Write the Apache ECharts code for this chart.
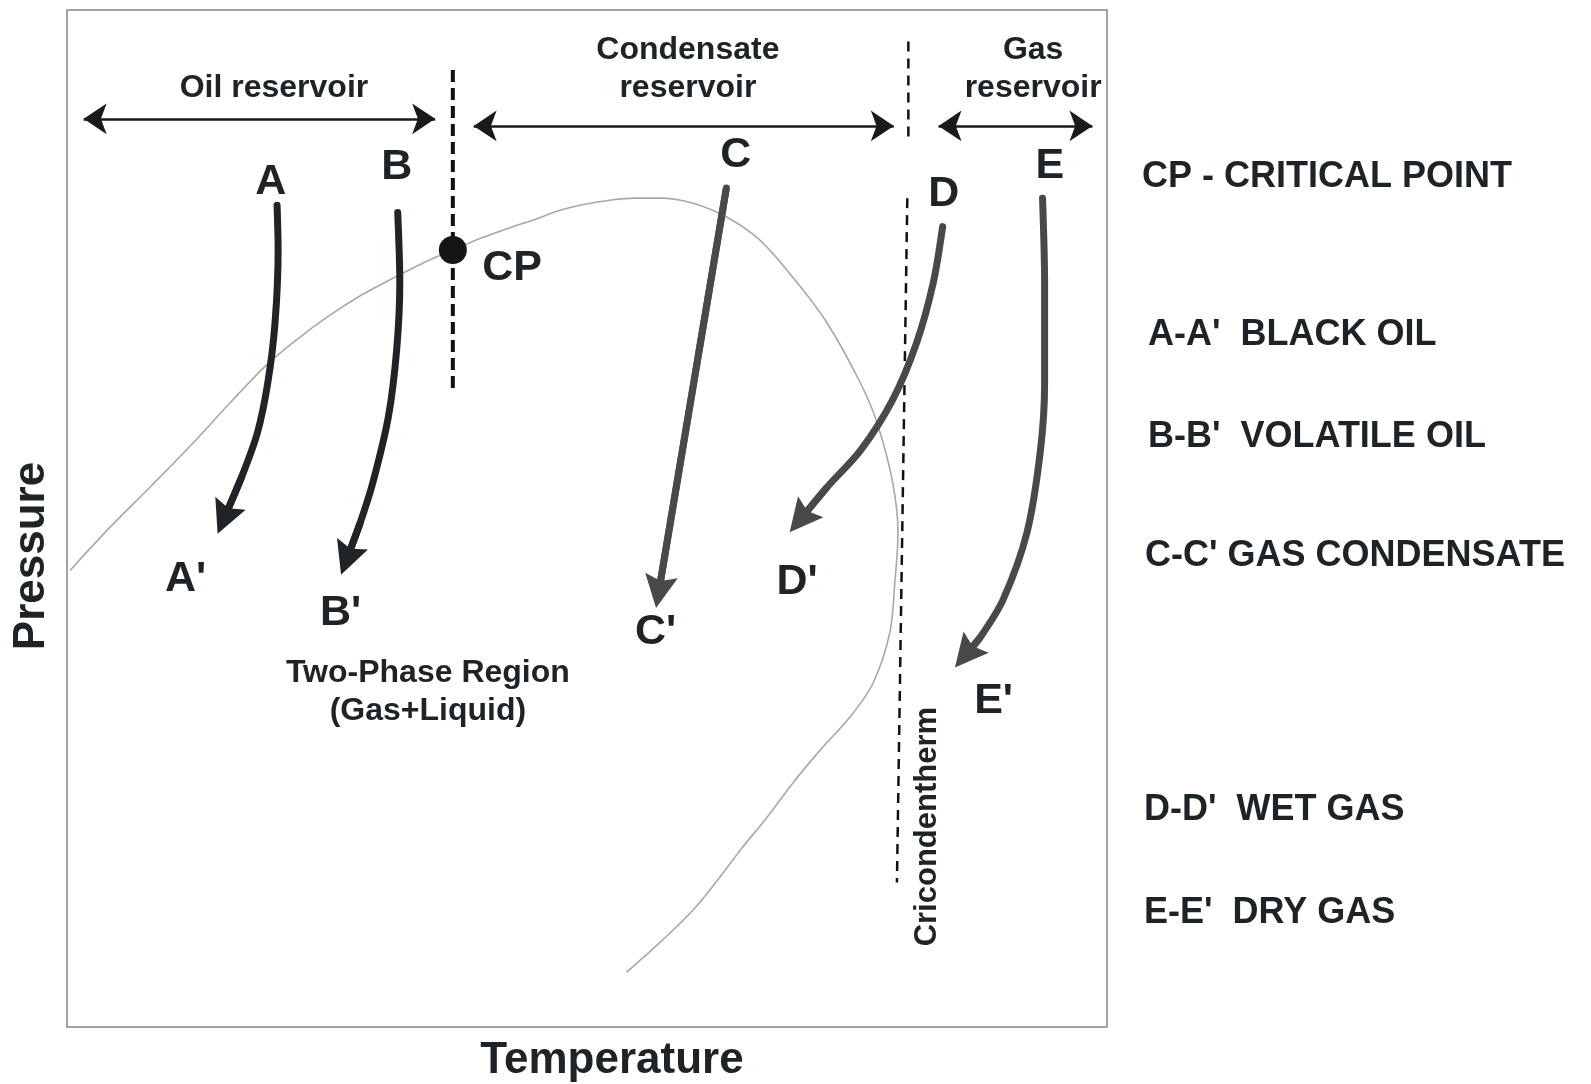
<!DOCTYPE html>
<html>
<head>
<meta charset="utf-8">
<title>Reservoir fluid phase diagram</title>
<script src="https://cdn.jsdelivr.net/npm/echarts@6/dist/echarts.min.js"></script>
<style>
  html, body { margin: 0; padding: 0; background: #fff; }
  #chart { width: 1591px; height: 1084px; }
</style>
</head>
<body>
<div id="chart"></div>
<script>
// all values are in % of the plot box: [temperature, pressure]

// phase envelope (bubble point -> CP -> dew point)
const envelope = [
  [0.3, 44.9], [4.1, 49.1], [8.0, 53.1], [12.1, 57.4], [15.7, 61.4], [19.2, 65.1],
  [22.1, 67.6], [25.0, 69.8], [28.2, 71.9], [31.3, 73.6], [34.2, 75.1], [37.1, 76.4],
  [39.9, 77.6], [42.6, 78.6], [45.0, 79.4], [47.4, 80.3], [49.8, 80.9], [52.2, 81.3],
  [54.6, 81.5], [57.0, 81.5], [60.2, 81.0], [63.5, 79.6], [66.6, 77.4], [69.8, 73.7],
  [73.1, 69.2], [76.3, 63.3], [77.9, 59.4], [79.4, 53.5], [79.9, 48.6], [79.6, 43.7],
  [79.1, 38.7], [77.5, 33.8], [75.3, 30.5], [72.4, 27.2], [69.8, 24.0], [67.3, 20.6],
  [64.9, 17.6], [62.6, 14.5], [60.2, 11.5], [57.0, 8.3], [53.8, 5.4]
]

const criticalPoint = [37.1, 76.4]

// isothermal depletion paths, last point = arrow head
const pathA = [[20.2, 80.8], [20.3, 76.4], [20.0, 69.2], [19.3, 63.3], [18.3, 58.4], [16.8, 54.1], [15.1, 50.0]]
const pathB = [[31.8, 80.1], [32.0, 73.2], [31.7, 66.6], [30.9, 60.0], [29.4, 53.5], [28.2, 49.6], [26.9, 46.0]]
const pathC = [[63.4, 82.5], [56.9, 42.8]]
const pathD = [[84.2, 78.7], [83.3, 73.2], [81.7, 67.3], [79.4, 61.7], [76.3, 56.7], [73.1, 53.1], [70.5, 49.9]]
const pathE = [[93.8, 81.5], [94.0, 73.2], [94.0, 63.3], [93.6, 56.7], [92.3, 48.6], [90.0, 42.0], [87.8, 38.3], [86.4, 36.6]]

// dashed boundaries
const cpBoundary = [[37.1, 94.1], [37.1, 62.3]]
const gasBoundary = [[80.9, 96.9], [80.9, 87.0]]
const cricondentherm = [[80.8, 81.5], [79.8, 14.2]]

// reservoir ranges: [from, to, pressure]
const rangeArrows = [[1.6, 35.4, 89.3], [39.1, 79.5, 88.6], [83.8, 98.6, 88.6]]

// text on the plot
const pointLabels = [
  ['A', 19.6, 83.1], ['B', 31.7, 84.5], ['C', 64.3, 85.7], ['D', 84.3, 81.9], ['E', 94.5, 84.6],
  ["A'", 11.4, 44.0], ["B'", 26.3, 40.7], ["C'", 56.6, 38.8], ["D'", 70.2, 43.7], ["E'", 89.1, 32.0],
  ['CP', 42.8, 74.6]
]
const regionLabels = [
  ['Oil reservoir', 19.9, 92.3],
  ['Condensate\nreservoir', 59.7, 94.2],
  ['Gas\nreservoir', 92.9, 94.2],
  ['Two-Phase Region\n(Gas+Liquid)', 34.7, 32.9]
]
const cricondenthermLabel = ['Cricondentherm', 82.7, 19.7]

const legendLines = [
  'CP - CRITICAL POINT',
  "A-A'  BLACK OIL",
  "B-B'  VOLATILE OIL",
  "C-C' GAS CONDENSATE",
  "D-D'  WET GAS",
  "E-E'  DRY GAS"
]

const FONT = '"Liberation Sans", Arial, Helvetica, sans-serif'
const TEXT = '#1d2326'
const DARK = '#202427'
const GREY = '#48494b'
// arrow head, tip up (lines series rotates it along the line)
const HEAD = 'path://M15,0 L30,30 L15,25 L0,30 Z'

const chart = echarts.init(document.getElementById('chart'))

// body of an arrow (smooth line) + head (lines series with arrow symbol)
const arrowSeries = (path, color) => [
  {
    type: 'line',
    data: path,
    smooth: 0.3,
    symbol: 'none',
    lineStyle: { width: 7, color: color, cap: 'round' },
    z: 4,
    silent: true
  },
  {
    type: 'lines',
    coordinateSystem: 'cartesian2d',
    data: [{ coords: path.slice(-2) }],
    symbol: ['none', HEAD],
    symbolSize: 33,
    lineStyle: { width: 7, color: color, opacity: 1 },
    z: 5,
    silent: true
  }
]

const dashed = (data, width, dash) => ({
  type: 'line',
  data: data,
  symbol: 'none',
  lineStyle: { width: width, color: '#111', type: dash },
  z: 3,
  silent: true
})

const labelSeries = (items, label) => ({
  type: 'scatter',
  data: items.map(l => ({ name: l[0], value: [l[1], l[2]] })),
  symbolSize: 1,
  itemStyle: { color: 'transparent', opacity: 1 },
  label: Object.assign({
    show: true, position: 'inside', formatter: p => p.name, opacity: 1,
    fontFamily: FONT, fontWeight: 'bold', color: TEXT
  }, label),
  z: 7,
  silent: true
})

const series = [
  {
    type: 'line',
    data: envelope,
    smooth: 0.35,
    symbol: 'none',
    lineStyle: { width: 1.6, color: '#a8a8a8' },
    z: 2,
    silent: true
  },
  dashed(cpBoundary, 4, [12, 6]),
  dashed(gasBoundary, 2.5, [10, 7]),
  dashed(cricondentherm, 2.5, [10, 7]),
  ...arrowSeries(pathA, DARK),
  ...arrowSeries(pathB, DARK),
  ...arrowSeries(pathC, GREY),
  ...arrowSeries(pathD, GREY),
  ...arrowSeries(pathE, GREY),
  {
    type: 'lines',
    coordinateSystem: 'cartesian2d',
    data: rangeArrows.map(r => ({ coords: [[r[0], r[2]], [r[1], r[2]]] })),
    symbol: ['arrow', 'arrow'],
    symbolSize: 23,
    lineStyle: { width: 2.5, color: '#1a1a1a', opacity: 1 },
    z: 5,
    silent: true
  },
  {
    type: 'scatter',
    data: [criticalPoint],
    symbol: 'circle',
    symbolSize: 28,
    itemStyle: { color: '#151515', opacity: 1 },
    z: 6,
    silent: true
  },
  labelSeries(pointLabels, { fontSize: 43 }),
  labelSeries(regionLabels, { fontSize: 32, lineHeight: 38 }),
  labelSeries([cricondenthermLabel], { fontSize: 31, rotate: 90 })
]

// legend block on the right
const legendX = [1142, 1148, 1148, 1145, 1144, 1144]
const legendY = [177, 335, 437, 556, 810, 913]
const graphic = legendLines.map((t, i) => ({
  type: 'text',
  x: legendX[i],
  y: legendY[i],
  style: {
    text: t, fill: TEXT, fontFamily: FONT, fontWeight: 'bold', fontSize: 36,
    align: 'left', verticalAlign: 'middle'
  }
}))
graphic.push({
  type: 'text', x: 32, y: 556, rotation: Math.PI / 2,
  style: {
    text: 'Pressure', fill: TEXT, fontFamily: FONT, fontWeight: 'bold', fontSize: 44,
    align: 'center', verticalAlign: 'middle'
  }
})
graphic.push({
  type: 'text', x: 612, y: 1061,
  style: {
    text: 'Temperature', fill: TEXT, fontFamily: FONT, fontWeight: 'bold', fontSize: 44,
    align: 'center', verticalAlign: 'middle'
  }
})

chart.setOption({
  backgroundColor: '#fff',
  animation: false,
  grid: {
    left: 67, top: 10, width: 1040, height: 1017,
    show: true, borderColor: '#858585', borderWidth: 1.5, backgroundColor: 'transparent'
  },
  xAxis: { type: 'value', min: 0, max: 100, show: false },
  yAxis: { type: 'value', min: 0, max: 100, show: false },
  graphic: graphic,
  series: series
})
</script>
</body>
</html>
